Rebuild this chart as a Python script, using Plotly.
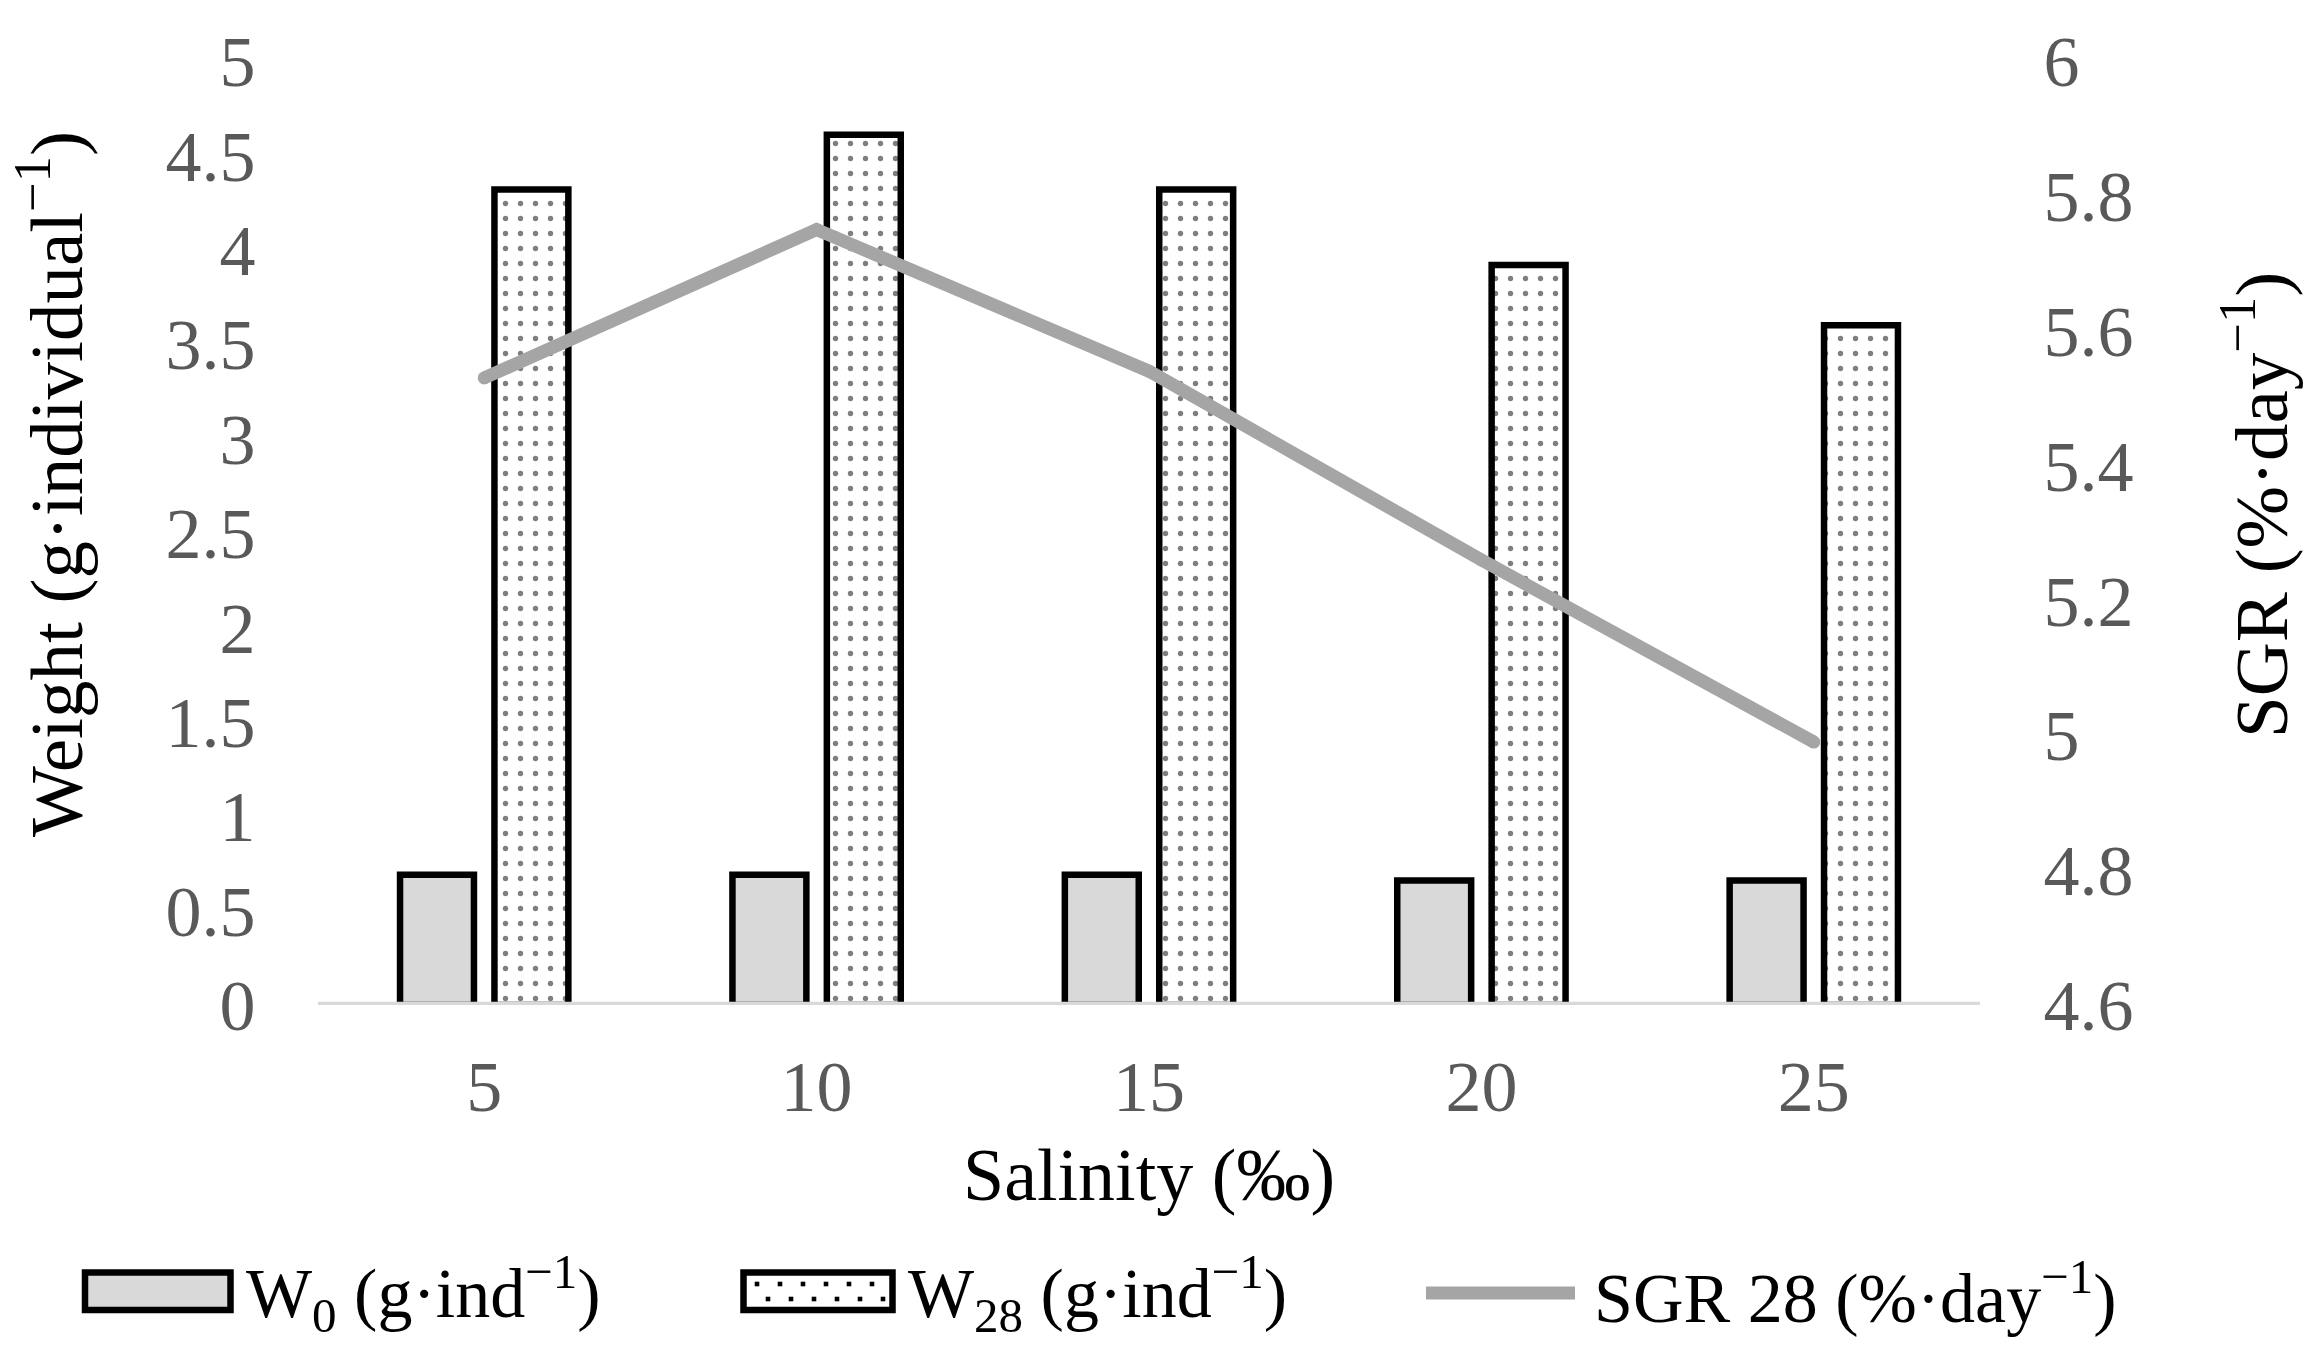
import plotly.graph_objects as go

# ---------------- data ----------------
salinity = ["5", "10", "15", "20", "25"]
w0 = [0.69, 0.69, 0.69, 0.66, 0.66]
w28 = [4.32, 4.61, 4.32, 3.92, 3.60]
sgr28 = [5.53, 5.75, 5.54, 5.26, 4.99]

left_ticks = [0, 0.5, 1, 1.5, 2, 2.5, 3, 3.5, 4, 4.5, 5]
left_ticktext = ["0", "0.5", "1", "1.5", "2", "2.5", "3", "3.5", "4", "4.5", "5"]
right_ticks = [4.6, 4.8, 5.0, 5.2, 5.4, 5.6, 5.8, 6.0]
right_ticktext = ["4.6", "4.8", "5", "5.2", "5.4", "5.6", "5.8", "6"]

legend_names = ["W<sub>0</sub> (g·ind<sup>−1</sup>)",
                "W<sub>28</sub> (g·ind<sup>−1</sup>)",
                "SGR 28 (%·day<sup>−1</sup>)"]

# ---------------- layout geometry ----------------
W, H = 2322, 1357
L, R, T, B = 318, 342, 61, 352
PW, PH = W - L - R, H - T - B
FONT = "Liberation Serif, Times New Roman, serif"
TICK_COL = "#595959"
GRAY_FILL = "#D9D9D9"
LINE_COL = "#A5A5A5"


def px_x(px):
    return (px - L) / PW


def px_y(py):
    return (H - B - py) / PH


fig = go.Figure()

fig.add_trace(go.Bar(
    x=salinity, y=w0, name=legend_names[0],
    marker=dict(color=GRAY_FILL, line=dict(color="black", width=6.5)),
    showlegend=False,
))
fig.add_trace(go.Bar(
    x=salinity, y=w28, name=legend_names[1],
    marker=dict(color="white", line=dict(color="black", width=6.5),
                pattern=dict(shape=".", size=15, solidity=0.1,
                             fgcolor="black", bgcolor="white", fillmode="overlay")),
    showlegend=False,
))
fig.add_trace(go.Scatter(
    x=salinity, y=sgr28, name=legend_names[2], yaxis="y2",
    mode="lines+markers",
    line=dict(color=LINE_COL, width=13),
    marker=dict(color=LINE_COL, size=13, line=dict(width=0)),
    showlegend=False,
))

shapes = []
# x axis baseline drawn above the bars
shapes.append(dict(type="line", xref="paper", yref="y", x0=0, x1=1, y0=0, y1=0,
                   line=dict(color=GRAY_FILL, width=6.5), layer="above"))

# custom legend swatches
shapes.append(dict(type="rect", xref="paper", yref="paper",
                   x0=px_x(85), x1=px_x(230.5), y0=px_y(1310), y1=px_y(1272.5),
                   fillcolor=GRAY_FILL, line=dict(color="black", width=6.5)))
shapes.append(dict(type="rect", xref="paper", yref="paper",
                   x0=px_x(743.5), x1=px_x(892.5), y0=px_y(1310), y1=px_y(1272.5),
                   fillcolor="white", line=dict(color="black", width=6.5)))
for row, yy in enumerate([1284, 1299]):
    off = 0 if row == 0 else 11
    for k in range(6):
        cx = 757 + off + 23 * k
        if cx > 884:
            continue
        shapes.append(dict(type="rect", xref="paper", yref="paper",
                           x0=px_x(cx - 2.3), x1=px_x(cx + 2.3),
                           y0=px_y(yy + 2.3), y1=px_y(yy - 2.3),
                           fillcolor="black", line=dict(width=0)))
shapes.append(dict(type="line", xref="paper", yref="paper",
                   x0=px_x(1426), x1=px_x(1575), y0=px_y(1293), y1=px_y(1293),
                   line=dict(color=LINE_COL, width=13)))

annotations = []
legend_text_x = [244, 906, 1592]
for name, xx in zip(legend_names, legend_text_x):
    annotations.append(dict(text=name, xref="paper", yref="paper",
                            x=px_x(xx), y=px_y(1293), xanchor="left", yanchor="middle",
                            showarrow=False, font=dict(family=FONT, size=70, color="black")))
# axis titles
annotations.append(dict(text="Weight (g·individual<sup>−1</sup>)", xref="paper", yref="paper",
                        x=px_x(50), y=px_y(484), xanchor="center", yanchor="middle",
                        textangle=-90, showarrow=False,
                        font=dict(family=FONT, size=75, color="black")))
annotations.append(dict(text="SGR (%·day<sup>−1</sup>)", xref="paper", yref="paper",
                        x=px_x(2256), y=px_y(505), xanchor="center", yanchor="middle",
                        textangle=-90, showarrow=False,
                        font=dict(family=FONT, size=75, color="black")))
annotations.append(dict(text="Salinity (‰)", xref="paper", yref="paper",
                        x=0.5, y=px_y(1175), xanchor="center", yanchor="middle",
                        showarrow=False,
                        font=dict(family=FONT, size=74, color="black")))

fig.update_layout(
    width=W, height=H, autosize=False,
    margin=dict(l=L, r=R, t=T, b=B, pad=0),
    paper_bgcolor="white", plot_bgcolor="white",
    barmode="group", bargap=0.432, bargroupgap=0.217,
    font=dict(family=FONT, color=TICK_COL),
    showlegend=False,
    xaxis=dict(type="category", showline=False, showgrid=False, zeroline=False,
               ticks="outside", ticklen=19, tickcolor="rgba(0,0,0,0)",
               tickfont=dict(family=FONT, size=72, color=TICK_COL)),
    yaxis=dict(range=[0, 5], tickvals=left_ticks, ticktext=left_ticktext,
               showline=False, showgrid=False, zeroline=False,
               ticks="outside", ticklen=47, tickcolor="rgba(0,0,0,0)",
               tickfont=dict(family=FONT, size=72, color=TICK_COL)),
    yaxis2=dict(range=[4.6, 6.0], tickvals=right_ticks, ticktext=right_ticktext,
                overlaying="y", side="right",
                showline=False, showgrid=False, zeroline=False,
                ticks="outside", ticklen=48, tickcolor="rgba(0,0,0,0)",
                tickfont=dict(family=FONT, size=72, color=TICK_COL)),
    shapes=shapes,
    annotations=annotations,
)

fig.write_html("out.html")
